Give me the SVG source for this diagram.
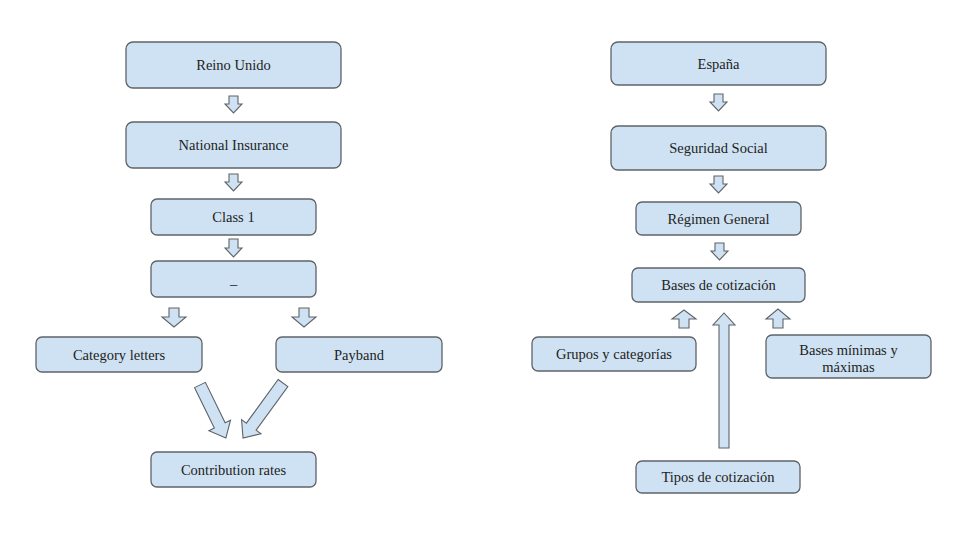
<svg xmlns="http://www.w3.org/2000/svg" width="965" height="551" viewBox="0 0 965 551">
<style>
.box{fill:#cfe2f3;stroke:#5f6368;stroke-width:1.3}
.t{font-family:"Liberation Serif","Times New Roman",serif;font-size:14.5px;fill:#222;text-anchor:middle;dominant-baseline:central}
.ar{fill:#cfe2f3;stroke:#5f6368;stroke-width:1.1;stroke-linejoin:miter}
</style>
<rect width="965" height="551" fill="#ffffff"/>
<g id="reino-unido"><rect class="box" x="126" y="42" width="215" height="46" rx="7"/><text class="t" x="233.5" y="65">Reino Unido</text></g>
<g id="national-insurance"><rect class="box" x="126" y="122" width="215" height="46" rx="7"/><text class="t" x="233.5" y="145">National Insurance</text></g>
<g id="class-1"><rect class="box" x="151" y="199" width="165" height="36" rx="6"/><text class="t" x="233.5" y="217">Class 1</text></g>
<g id="blank"><rect class="box" x="151" y="261" width="165" height="36" rx="6"/><text class="t" x="233.5" y="279">_</text></g>
<g id="category-letters"><rect class="box" x="36" y="337" width="166" height="35" rx="6"/><text class="t" x="119" y="354.5">Category letters</text></g>
<g id="payband"><rect class="box" x="276" y="337" width="166" height="35" rx="6"/><text class="t" x="359" y="354.5">Payband</text></g>
<g id="contribution-rates"><rect class="box" x="151" y="452" width="165" height="35" rx="6"/><text class="t" x="233.5" y="469.5">Contribution rates</text></g>
<g id="espana"><rect class="box" x="611" y="42" width="215" height="43" rx="7"/><text class="t" x="718.5" y="63.5">España</text></g>
<g id="seguridad-social"><rect class="box" x="611" y="126" width="215" height="44" rx="7"/><text class="t" x="718.5" y="148">Seguridad Social</text></g>
<g id="regimen-general"><rect class="box" x="636" y="202" width="165" height="33" rx="6"/><text class="t" x="718.5" y="218.5">Régimen General</text></g>
<g id="bases-cotizacion"><rect class="box" x="632" y="268" width="173" height="34" rx="6"/><text class="t" x="718.5" y="285">Bases de cotización</text></g>
<g id="grupos-categorias"><rect class="box" x="532" y="337" width="164" height="34" rx="6"/><text class="t" x="614" y="354">Grupos y categorías</text></g>
<g id="bases-min-max"><rect class="box" x="766" y="335" width="165" height="43" rx="6"/><text class="t" x="848.5" y="350">Bases mínimas y</text><text class="t" x="848.5" y="367">máximas</text></g>
<g id="tipos-cotizacion"><rect class="box" x="636" y="461" width="164" height="32" rx="6"/><text class="t" x="718" y="477">Tipos de cotización</text></g>
<g id="connectors">
<polygon class="ar" points="229,96 238,96 238,104 242,104 233.5,113 225,104 229,104"/>
<polygon class="ar" points="229,174 238,174 238,182 242,182 233.5,191 225,182 229,182"/>
<polygon class="ar" points="229,239 238,239 238,248 242,248 233.5,257 225,248 229,248"/>
<polygon class="ar" points="169,308 179,308 179,317 186,317 174,327 162,317 169,317"/>
<polygon class="ar" points="299,308 309,308 309,317 316,317 304,327 292,317 299,317"/>
<polygon class="ar" transform="translate(200,385) rotate(-26)" points="-6,0 6,0 6,45 12,45 0,59 -12,45 -6,45"/>
<polygon class="ar" transform="translate(283,383) rotate(36)" points="-6,0 6,0 6,54 12,54 0,68 -12,54 -6,54"/>
<polygon class="ar" points="714,94 723,94 723,102 727,102 718.5,111 710,102 714,102"/>
<polygon class="ar" points="714,176 723,176 723,184 727,184 718.5,193 710,184 714,184"/>
<polygon class="ar" points="715,243 724,243 724,251 728,251 719.5,260 711,251 715,251"/>
<polygon class="ar" points="679,328 689,328 689,319 696,319 684,310 672,319 679,319"/>
<polygon class="ar" points="773,328 783,328 783,319 790,319 778,309 766,319 773,319"/>
<polygon class="ar" points="719,448 729,448 729,325 735,325 724,313 713,325 719,325"/>
</g>
</svg>
